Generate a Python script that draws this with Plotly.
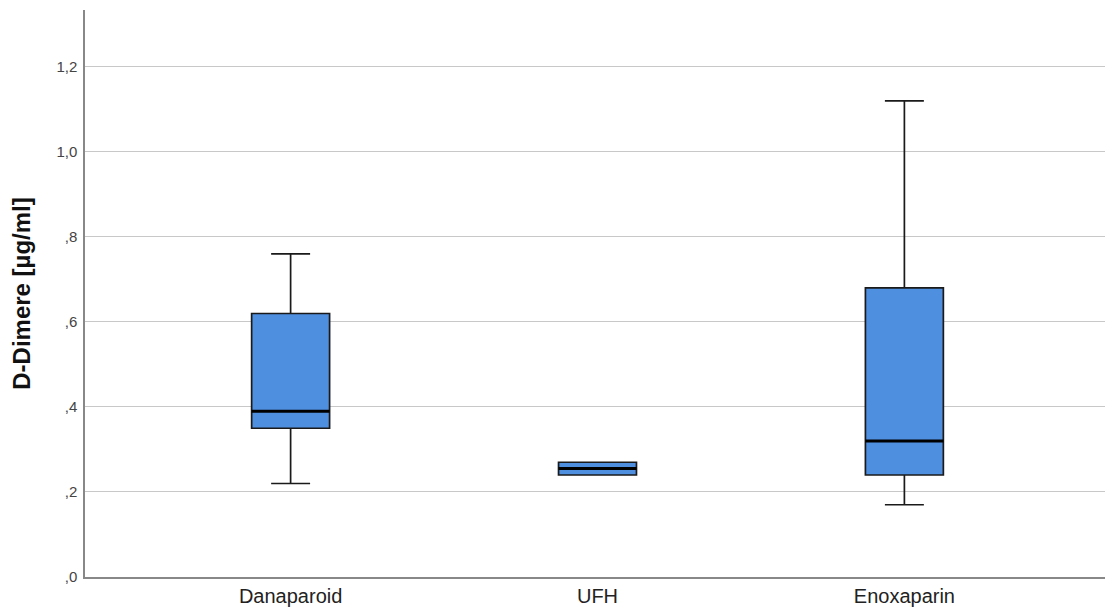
import plotly.graph_objects as go

categories = ["Danaparoid", "UFH", "Enoxaparin"]
lower_whisker = [0.22, 0.24, 0.17]
q1_vals = [0.35, 0.24, 0.24]
median_vals = [0.39, 0.255, 0.32]
q3_vals = [0.62, 0.27, 0.68]
upper_whisker = [0.76, 0.27, 1.12]
y_tick_vals = [0, 0.2, 0.4, 0.6, 0.8, 1.0, 1.2]
y_tick_text = [",0", ",2", ",4", ",6", ",8", "1,0", "1,2"]

pos = list(range(len(categories)))
box_w = 0.254

fig = go.Figure()
fig.add_trace(go.Box(
    x=pos, q1=q1_vals, median=median_vals, q3=q3_vals,
    lowerfence=lower_whisker, upperfence=upper_whisker,
    width=box_w, whiskerwidth=0.5,
    fillcolor="#4F8FE0", line=dict(color="#1a1a1a", width=1.7),
    boxpoints=False, showlegend=False, hoverinfo="skip",
))

mx, my = [], []
for i, m in zip(pos, median_vals):
    mx += [i - box_w / 2, i + box_w / 2, None]
    my += [m, m, None]
fig.add_trace(go.Scatter(x=mx, y=my, mode="lines",
                         line=dict(color="#000000", width=3),
                         showlegend=False, hoverinfo="skip"))

fig.update_layout(
    width=1113, height=611,
    margin=dict(l=77, r=11, t=2, b=42),
    paper_bgcolor="white", plot_bgcolor="white",
    font=dict(family="Liberation Sans, Arial, sans-serif", color="#222222"),
)
fig.update_xaxes(
    range=[-0.67, 2.67], tickvals=pos, ticktext=categories,
    showgrid=False, zeroline=False, showline=True,
    linecolor="#888888", linewidth=1.5,
    tickfont=dict(size=20, color="#222222"), ticks="",
)
fig.update_yaxes(
    range=[0, 1.334], tickvals=y_tick_vals, ticktext=y_tick_text,
    showgrid=True, gridcolor="#C8C8C8", gridwidth=1,
    zeroline=False, showline=True, linecolor="#888888", linewidth=1.5,
    tickfont=dict(size=15, color="#444444"), ticks="", ticklabelstandoff=3,
    title=dict(text="<b>D-Dimere [µg/ml]</b>", font=dict(size=24, color="#111111"), standoff=27),
)

fig.write_html("out.html")
